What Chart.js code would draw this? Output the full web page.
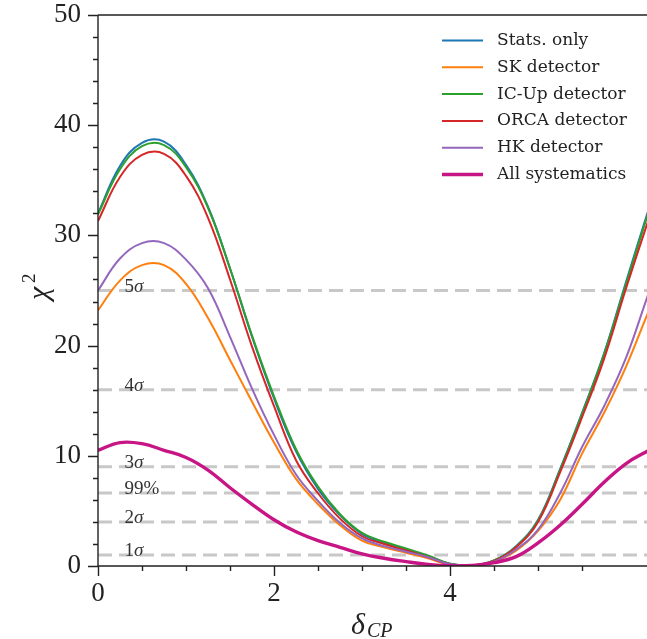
<!DOCTYPE html>
<html>
<head>
<meta charset="utf-8">
<script src="https://cdn.jsdelivr.net/npm/chart.js@4.4.1/dist/chart.umd.min.js"></script>
<style>
    html, body { margin: 0; padding: 0; background: #fff; overflow: hidden; }
    #wrap { width: 660px; height: 639px; }
</style>
</head>
<body>
<div id="wrap"><canvas id="chart" width="660" height="639"></canvas></div>
<script>
// delta_CP grid (0 .. 2pi)
const deltaCP = [0, 0.25, 0.5, 0.75, 1, 1.25, 1.5, 1.75, 2, 2.25, 2.5, 2.75, 3, 3.25, 3.5,
    3.75, 4, 4.25, 4.5, 4.75, 5, 5.25, 5.5, 5.75, 6, 6.25, 6.283];

const statsOnly = [32.0, 36.3, 38.4, 38.5, 36.4, 32.6, 27.0, 20.8, 15.2, 10.4, 7.0, 4.6, 2.9, 2.1, 1.5,
    0.9, 0.2, 0.05, 0.5, 1.8, 4.2, 8.8, 13.9, 19.3, 25.8, 32.2, 33.0];
const skDetector = [23.2, 25.9, 27.3, 27.3, 25.6, 22.5, 18.7, 14.9, 11.2, 7.9, 5.6, 3.7, 2.3, 1.7, 1.2,
    0.7, 0.1, 0.05, 0.4, 1.4, 3.2, 6.0, 10.2, 13.9, 18.1, 23.0, 23.5];
const icUpDetector = [31.9, 36.0, 38.1, 38.2, 36.2, 32.5, 27.0, 20.9, 15.4, 10.6, 7.2, 4.7, 3.0, 2.2, 1.6,
    0.95, 0.2, 0.05, 0.5, 1.75, 4.1, 8.7, 13.8, 19.2, 25.6, 32.0, 32.8];
const orcaDetector = [31.3, 35.3, 37.3, 37.4, 35.4, 31.6, 26.0, 19.9, 14.5, 9.6, 6.6, 4.3, 2.7, 2.0, 1.4,
    0.8, 0.15, 0.05, 0.45, 1.7, 4.0, 8.5, 13.5, 18.8, 25.2, 31.3, 32.0];
const hkDetector = [25.0, 27.9, 29.3, 29.3, 27.8, 25.2, 20.8, 16.1, 11.9, 8.3, 5.9, 3.9, 2.5, 1.8, 1.3,
    0.8, 0.15, 0.05, 0.4, 1.5, 3.3, 6.6, 10.8, 14.5, 18.9, 24.6, 25.2];
const allSystematics = [10.5, 11.2, 11.1, 10.5, 9.85, 8.7, 7.1, 5.6, 4.2, 3.1, 2.3, 1.7, 1.1, 0.7, 0.4,
    0.15, 0.02, 0.05, 0.3, 0.85, 2.1, 3.7, 5.6, 7.6, 9.3, 10.45, 10.55];

const seriesLabels = ['Stats. only', 'SK detector', 'IC-Up detector', 'ORCA detector', 'HK detector', 'All systematics'];
const seriesValues = [statsOnly, skDetector, icUpDetector, orcaDetector, hkDetector, allSystematics];
const seriesColors = ['#1f77b4', '#ff7f0e', '#2ca02c', '#d62728', '#9467bd', '#c71585'];
const seriesWidths = [2, 2, 2, 2, 2, 3.4];

// significance levels (chi2 for 1 dof)
const sigmaLevels = [1, 4, 6.63, 9, 16, 25];
const sigmaNums = ['1', '2', '99%', '3', '4', '5'];
const sigmaIsSigma = [true, true, false, true, true, true];

const SERIF = '"Liberation Serif", "DejaVu Serif", serif';
const AXIS = '#222';

const datasets = seriesLabels.map((label, i) => ({
    label,
    data: deltaCP.map((x, j) => ({ x, y: seriesValues[i][j] })),
    borderColor: seriesColors[i],
    backgroundColor: seriesColors[i],
    borderWidth: seriesWidths[i],
    pointRadius: 0,
    tension: 0.4,
    fill: false,
    order: seriesLabels.length - i
}));

const decor = {
    id: 'decor',
    beforeDatasetsDraw(chart) {
        const { ctx, chartArea, scales } = chart;
        const xs = scales.x, ys = scales.y;
        ctx.save();
        ctx.beginPath();
        ctx.rect(chartArea.left, chartArea.top, chartArea.right - chartArea.left, chartArea.bottom - chartArea.top);
        ctx.clip();
        ctx.strokeStyle = '#c8c8c8';
        ctx.lineWidth = 3;
        ctx.setLineDash([14, 7]);
        sigmaLevels.forEach(v => {
            const y = ys.getPixelForValue(v);
            ctx.beginPath();
            ctx.moveTo(chartArea.left, y);
            ctx.lineTo(chartArea.right, y);
            ctx.stroke();
        });
        ctx.setLineDash([]);
        ctx.fillStyle = '#333';
        ctx.textBaseline = 'alphabetic';
        ctx.textAlign = 'left';
        sigmaLevels.forEach((v, i) => {
            const x = xs.getPixelForValue(0.3);
            const y = ys.getPixelForValue(v) + 1;
            ctx.font = '19px ' + SERIF;
            ctx.fillText(sigmaNums[i], x, y);
            if (sigmaIsSigma[i]) {
                const w = ctx.measureText(sigmaNums[i]).width;
                ctx.font = 'italic 19px ' + SERIF;
                ctx.fillText('σ', x + w, y);
            }
        });
        ctx.restore();
    },
    afterDraw(chart) {
        const { ctx, chartArea, scales } = chart;
        const xs = scales.x, ys = scales.y;
        ctx.save();
        ctx.strokeStyle = AXIS;
        ctx.lineWidth = 1.4;
        // spines (left, bottom, top)
        ctx.beginPath();
        ctx.moveTo(chartArea.left, chartArea.top);
        ctx.lineTo(chartArea.right, chartArea.top);
        ctx.moveTo(chartArea.left, chartArea.top);
        ctx.lineTo(chartArea.left, chartArea.bottom);
        ctx.lineTo(chartArea.right, chartArea.bottom);
        ctx.stroke();
        // tick marks
        ctx.beginPath();
        ys.ticks.forEach(t => {
            if (Math.abs(t.value / 2 - Math.round(t.value / 2)) > 1e-6) return;
            const y = Math.round(ys.getPixelForValue(t.value)) + 0.5;
            const len = t.value % 10 === 0 ? 10 : 5;
            ctx.moveTo(chartArea.left - len, y);
            ctx.lineTo(chartArea.left, y);
        });
        xs.ticks.forEach(t => {
            if (Math.abs(t.value * 2 - Math.round(t.value * 2)) > 1e-6) return;
            const x = Math.round(xs.getPixelForValue(t.value)) + 0.5;
            const len = t.value % 2 === 0 ? 10 : 5;
            ctx.moveTo(x, chartArea.bottom);
            ctx.lineTo(x, chartArea.bottom + len);
        });
        ctx.stroke();

        // x axis title: delta_CP
        ctx.fillStyle = '#222';
        ctx.textAlign = 'left';
        ctx.textBaseline = 'alphabetic';
        ctx.font = 'italic 30px ' + SERIF;
        ctx.fillText('δ', 351, 634);
        ctx.font = 'italic 20px ' + SERIF;
        ctx.fillText('CP', 367, 637);

        // y axis title: chi^2
        ctx.save();
        ctx.translate(48, 300);
        ctx.rotate(-Math.PI / 2);
        ctx.font = 'italic 30px ' + SERIF;
        ctx.fillText('χ', 0, 0);
        ctx.font = '19px ' + SERIF;
        ctx.fillText('2', 17, -13);
        ctx.restore();

        // legend
        ctx.font = '17px "DejaVu Serif", serif';
        ctx.textBaseline = 'middle';
        chart.data.datasets.forEach((ds, i) => {
            const y = 40.5 + i * 26.8;
            ctx.strokeStyle = ds.borderColor;
            ctx.lineWidth = ds.borderWidth;
            ctx.beginPath();
            ctx.moveTo(442, y);
            ctx.lineTo(483, y);
            ctx.stroke();
            ctx.fillStyle = '#222';
            ctx.fillText(ds.label, 497, y);
        });
        ctx.restore();
    }
};

new Chart(document.getElementById('chart'), {
    type: 'line',
    data: { datasets },
    options: {
        responsive: false,
        animation: false,
        layout: { padding: { top: 0, right: 9, left: 0, bottom: 0 } },
        plugins: {
            legend: { display: false },
            tooltip: { enabled: false }
        },
        scales: {
            x: {
                type: 'linear',
                min: 0,
                max: 2 * Math.PI,
                afterFit: s => { s.height = 73; s.paddingLeft = 0; s.paddingRight = 0; },
                grid: { display: false, drawTicks: false },
                border: { display: false },
                ticks: {
                    stepSize: 0.5,
                    autoSkip: false,
                    maxRotation: 0,
                    padding: 12,
                    color: '#222',
                    font: { family: SERIF, size: 27 },
                    callback: v => (Math.abs(v % 2) < 1e-9 ? String(v) : '')
                }
            },
            y: {
                min: 0,
                max: 50,
                afterFit: s => { s.width = 98; s.paddingTop = 15; s.paddingBottom = 0; },
                grid: { display: false, drawTicks: false },
                border: { display: false },
                ticks: {
                    stepSize: 2,
                    autoSkip: false,
                    padding: 17,
                    color: '#222',
                    font: { family: SERIF, size: 27 },
                    callback: v => (v % 10 === 0 ? String(v) : '')
                }
            }
        }
    },
    plugins: [decor]
});
</script>
</body>
</html>
